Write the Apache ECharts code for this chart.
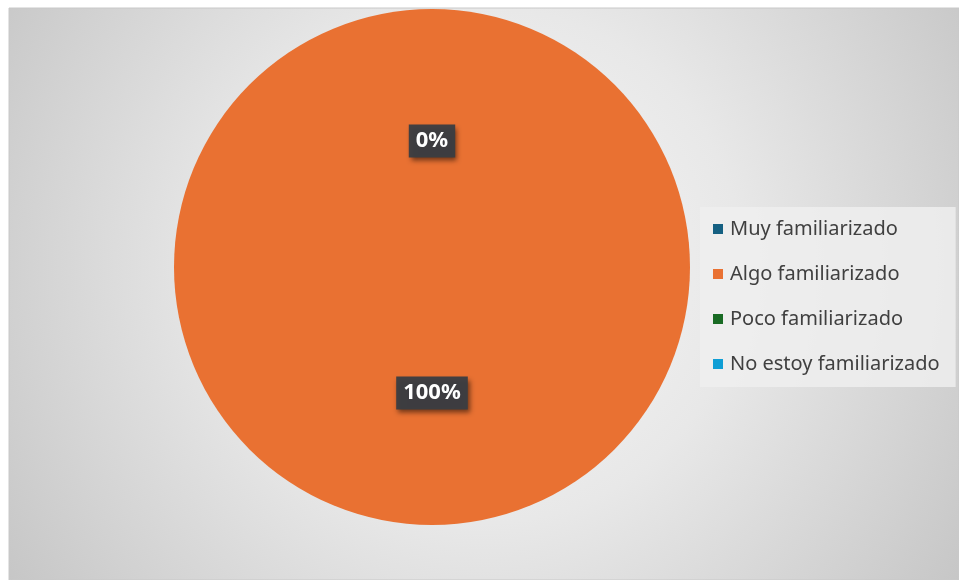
<!DOCTYPE html>
<html>
<head>
<meta charset="utf-8">
<script src="https://cdn.jsdelivr.net/npm/echarts@6/dist/echarts.min.js"></script>
<style>
  html, body { margin: 0; padding: 0; background: #ffffff; }
  #chart { width: 959px; height: 580px; }
</style>
</head>
<body>
<div id="chart"></div>
<script>
// Nivel de familiaridad declarado (porcentaje de respuestas)
const categories = ['Muy familiarizado', 'Algo familiarizado', 'Poco familiarizado', 'No estoy familiarizado'];
const values = [0, 100, 0, 0];
const colors = ['#156082', '#E97132', '#196B24', '#0F9ED5'];

const PIE_CENTER = [432, 267];

const chart = echarts.init(document.getElementById('chart'), null, { renderer: 'canvas' });

chart.setOption({
  animation: false,
  backgroundColor: '#ffffff',
  graphic: [{
    type: 'rect',
    z: -10,
    silent: true,
    shape: { x: 9, y: 8, width: 950, height: 572 },
    style: {
      fill: {
        type: 'radial', x: 0.5, y: 0.45, r: 1.0,
        colorStops: [
          { offset: 0, color: '#f8f8f8' },
          { offset: 0.45, color: '#e8e8e8' },
          { offset: 1, color: '#c6c6c6' }
        ]
      },
      stroke: '#c8c8c8', lineWidth: 1
    }
  }],
  legend: {
    orient: 'vertical',
    left: 700,
    top: 207,
    padding: [11, 16, 12, 13],
    itemGap: 23,
    itemWidth: 10,
    itemHeight: 10,
    icon: 'rect',
    backgroundColor: 'rgba(238,238,238,0.85)',
    selectedMode: false,
    data: categories,
    textStyle: {
      fontFamily: 'Noto Sans',
      fontSize: 20,
      color: '#404040',
      padding: [0, 0, 0, 2],
      lineHeight: 22
    }
  },
  series: [{
    type: 'pie',
    center: PIE_CENTER,
    radius: 258,
    startAngle: 90,
    clockwise: true,
    minAngle: 0,
    avoidLabelOverlap: false,
    emphasis: { disabled: true },
    // pull the data labels slightly toward the pie centre
    labelLayout: function (params) {
      const r = params.labelRect;
      const midY = r.y + r.height / 2;
      return { dy: midY < PIE_CENTER[1] ? 6 : -6, hideOverlap: true };
    },
    label: {
      show: true,
      position: 'inside',
      formatter: '{d}%',
      color: '#ffffff',
      fontFamily: 'Noto Sans',
      fontWeight: 'bold',
      fontSize: 22,
      lineHeight: 24,
      backgroundColor: 'rgba(58,61,66,0.95)',
      padding: [5, 7, 4, 7],
      shadowColor: 'rgba(0,0,0,0.55)',
      shadowBlur: 5,
      shadowOffsetX: 2,
      shadowOffsetY: 3
    },
    labelLine: { show: false },
    data: categories.map((name, i) => ({
      name: name,
      value: values[i],
      itemStyle: { color: colors[i] }
    }))
  }]
});
</script>
</body>
</html>
